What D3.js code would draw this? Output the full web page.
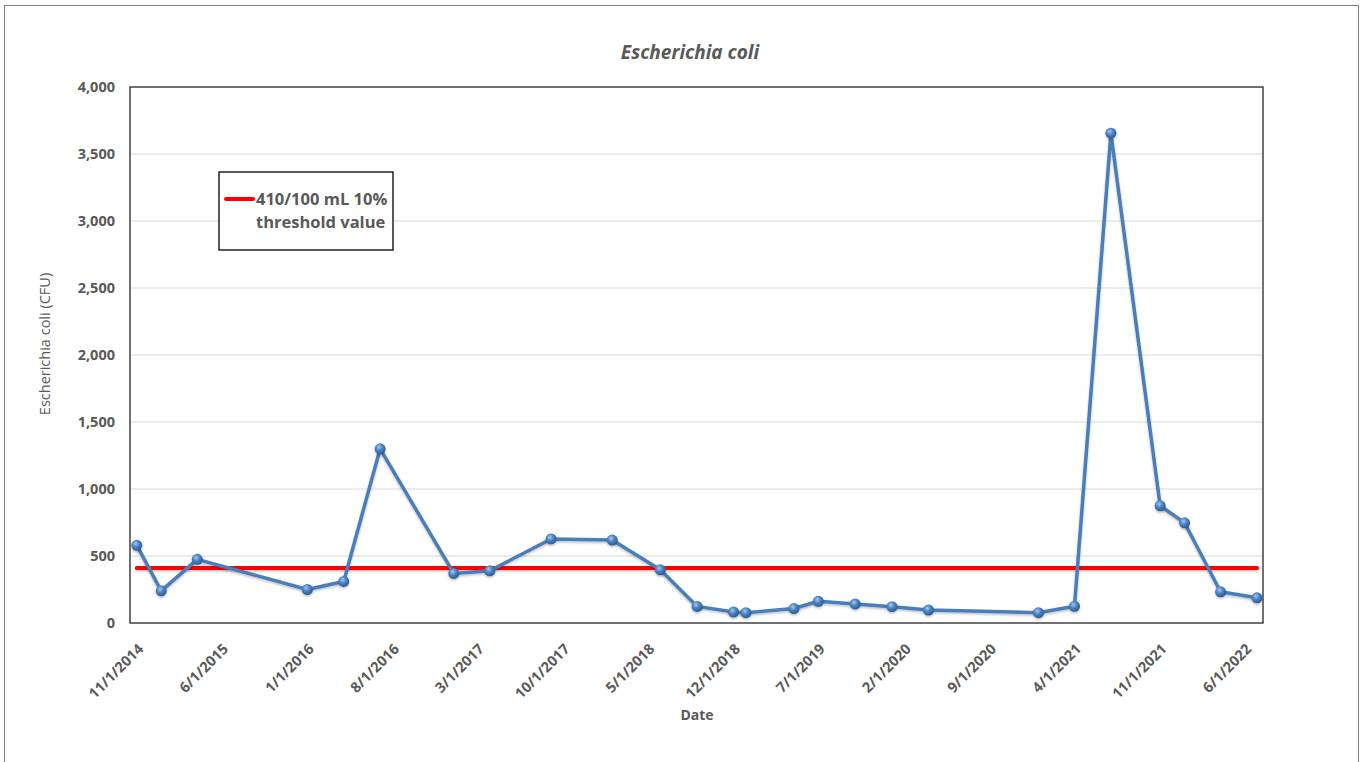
<!DOCTYPE html>
<html>
<head>
<meta charset="utf-8">
<script src="https://cdn.jsdelivr.net/npm/d3@7"></script>
<style>
  html, body { margin: 0; padding: 0; background: #fff; }
  svg { display: block; }
  text { font-family: "Open Sans", "Noto Sans", sans-serif; fill: #595959; }
</style>
</head>
<body>
<svg id="chart" width="1361" height="762"></svg>
<script>
// Sampling dates (first of month) and E. coli counts (CFU)
const sampleDates = [
  "2014-11-01", "2015-01-01", "2015-04-01", "2016-01-01", "2016-04-01",
  "2016-07-01", "2017-01-01", "2017-04-01", "2017-09-01", "2018-02-01",
  "2018-06-01", "2018-09-01", "2018-12-01", "2019-01-01", "2019-05-01",
  "2019-07-01", "2019-10-01", "2020-01-01", "2020-04-01", "2021-01-01",
  "2021-04-01", "2021-07-01", "2021-11-01", "2022-01-01", "2022-04-01",
  "2022-07-01"
];
const ecoliValues = [
  580, 240, 475, 250, 310,
  1300, 370, 390, 627, 619,
  397, 124, 82, 77, 108,
  162, 142, 122, 97, 77,
  125, 3655, 875, 748, 233,
  188
];
// Regulatory threshold: 410 per 100 mL (10% threshold value)
const thresholdValue = 410;
const thresholdLabel = ["410/100 mL 10%", "threshold value"];

// Axis ticks
const xTickLabels = [
  "11/1/2014", "6/1/2015", "1/1/2016", "8/1/2016", "3/1/2017", "10/1/2017",
  "5/1/2018", "12/1/2018", "7/1/2019", "2/1/2020", "9/1/2020", "4/1/2021",
  "11/1/2021", "6/1/2022"
];
const yTicks = [0, 500, 1000, 1500, 2000, 2500, 3000, 3500, 4000];

const chartTitle = "Escherichia coli";
const yAxisTitle = "Escherichia coli (CFU)";
const xAxisTitle = "Date";

const parseISO = d3.timeParse("%Y-%m-%d");
const parseUS = d3.timeParse("%m/%d/%Y");
const data = sampleDates.map((d, i) => ({ date: parseISO(d), value: ecoliValues[i] }));

const W = 1361, H = 762;
const svg = d3.select("#chart");
const plot = { left: 130, top: 87, right: 1263, bottom: 623 };

const x = d3.scaleTime()
  .domain([new Date(2014, 9, 15), new Date(2022, 6, 16)])
  .range([plot.left, plot.right]);
const y = d3.scaleLinear().domain([0, 4000]).range([plot.bottom, plot.top]);

const defs = svg.append("defs");
const grad = defs.append("radialGradient")
  .attr("id", "ball").attr("cx", "40%").attr("cy", "35%").attr("r", "65%");
grad.append("stop").attr("offset", "0%").attr("stop-color", "#a9c8ef");
grad.append("stop").attr("offset", "45%").attr("stop-color", "#4f86c6");
grad.append("stop").attr("offset", "100%").attr("stop-color", "#2a5a96");

// Soft drop shadow for series lines and markers
const shadow = defs.append("filter").attr("id", "shadow")
  .attr("filterUnits", "userSpaceOnUse")
  .attr("x", 0).attr("y", 0).attr("width", W).attr("height", H);
shadow.append("feDropShadow").attr("dx", 0).attr("dy", 1.5)
  .attr("stdDeviation", 1.2).attr("flood-color", "#000").attr("flood-opacity", 0.25);

// Outer chart frame
svg.append("rect")
  .attr("x", 4.5).attr("y", 5.5).attr("width", 1354).attr("height", 780)
  .attr("fill", "#fff").attr("stroke", "#7f7f7f").attr("stroke-width", 1);

// Title
svg.append("text")
  .attr("x", 690).attr("y", 59)
  .attr("text-anchor", "middle")
  .style("font-size", "19px").style("font-weight", "bold").style("font-style", "italic")
  .text(chartTitle);

// Horizontal gridlines
svg.append("g").selectAll("line")
  .data(yTicks.filter(t => t > 0 && t < 4000))
  .join("line")
  .attr("x1", plot.left).attr("x2", plot.right)
  .attr("y1", d => y(d)).attr("y2", d => y(d))
  .attr("stroke", "#d9d9d9").attr("stroke-width", 1);

// Y axis
const yAxis = svg.append("g")
  .attr("transform", `translate(${plot.left},0)`)
  .call(d3.axisLeft(y).tickValues(yTicks).tickFormat(d3.format(",")).tickSize(0).tickPadding(15));
yAxis.select(".domain").remove();
yAxis.selectAll("text")
  .style("font-size", "14.5px").style("font-weight", "bold")
  .style("font-family", "'Open Sans', sans-serif").attr("fill", "#595959");

// X axis with rotated date labels
const xAxis = svg.append("g")
  .attr("transform", `translate(0,${plot.bottom})`)
  .call(d3.axisBottom(x).tickValues(xTickLabels.map(parseUS)).tickSize(0)
    .tickFormat(d => d3.timeFormat("%-m/%-d/%Y")(d)));
xAxis.select(".domain").remove();
xAxis.selectAll("text")
  .style("font-size", "14.5px").style("font-weight", "bold")
  .style("font-family", "'Open Sans', sans-serif").attr("fill", "#595959")
  .attr("text-anchor", "end")
  .attr("dx", 0).attr("dy", 0).attr("y", 0)
  .attr("transform", "translate(7,27) rotate(-45)");

// Plot area border
svg.append("rect")
  .attr("x", plot.left).attr("y", plot.top)
  .attr("width", plot.right - plot.left).attr("height", plot.bottom - plot.top)
  .attr("fill", "none").attr("stroke", "#262626").attr("stroke-width", 1.3);

// Axis titles
svg.append("text")
  .attr("transform", `translate(50,344) rotate(-90)`)
  .attr("text-anchor", "middle")
  .style("font-size", "14.5px")
  .text(yAxisTitle);

svg.append("text")
  .attr("x", 697).attr("y", 720)
  .attr("text-anchor", "middle")
  .style("font-size", "14px").style("font-weight", "bold")
  .text(xAxisTitle);

// Threshold series
const first = data[0].date, last = data[data.length - 1].date;
svg.append("line")
  .attr("x1", x(first)).attr("x2", x(last))
  .attr("y1", y(thresholdValue)).attr("y2", y(thresholdValue))
  .attr("stroke", "#ff0000").attr("stroke-width", 4)
  .attr("stroke-linecap", "round")
  .attr("filter", "url(#shadow)");

// E. coli series
const line = d3.line().x(d => x(d.date)).y(d => y(d.value));
svg.append("path")
  .datum(data)
  .attr("d", line)
  .attr("fill", "none")
  .attr("stroke", "#4a7ebb")
  .attr("stroke-width", 3.5)
  .attr("stroke-linejoin", "round")
  .attr("filter", "url(#shadow)");

svg.append("g").selectAll("circle")
  .data(data)
  .join("circle")
  .attr("cx", d => x(d.date)).attr("cy", d => y(d.value))
  .attr("r", 5.5)
  .attr("fill", "url(#ball)")
  .attr("filter", "url(#shadow)");

// Legend
const legend = svg.append("g");
legend.append("rect")
  .attr("x", 219).attr("y", 172).attr("width", 174).attr("height", 78)
  .attr("fill", "#fff").attr("stroke", "#000").attr("stroke-width", 1.3);
legend.append("line")
  .attr("x1", 226).attr("x2", 253).attr("y1", 199).attr("y2", 199)
  .attr("stroke", "#ff0000").attr("stroke-width", 4).attr("stroke-linecap", "round");
legend.selectAll("text.lbl")
  .data(thresholdLabel)
  .join("text")
  .attr("class", "lbl")
  .attr("x", 256).attr("y", (d, i) => 205 + i * 23)
  .style("font-size", "16.5px").style("font-weight", "bold")
  .text(d => d);
</script>
</body>
</html>
